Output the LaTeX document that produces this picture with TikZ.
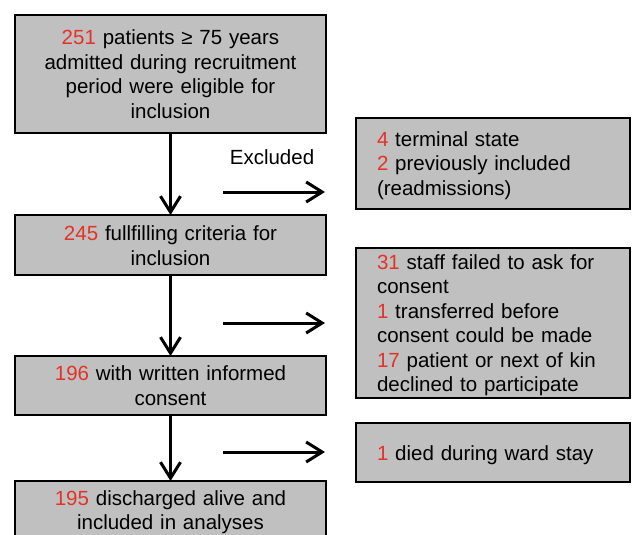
\documentclass[tikz,border=0pt]{standalone}
\usepackage{fontspec}
\setmainfont{Liberation Sans}
\usetikzlibrary{arrows.meta}
\definecolor{boxgray}{RGB}{192,192,192}
\definecolor{numred}{RGB}{228,50,40}
\newcommand\redn[1]{\textcolor{numred}{#1}}
\begin{document}
\begin{tikzpicture}[x=1pt,y=-1pt,
  txt/.style={font=\fontsize{20.5}{24.5}\selectfont},
  box/.style={txt, draw=black, line width=2.5pt, fill=boxgray, inner ysep=0pt, outer sep=0pt},
  lbox/.style={box, inner xsep=5pt, text width=301pt, align=center},
  rbox/.style={box, inner xsep=21pt, text width=232pt, align=left},
  arr/.style={line width=3pt, -{Straight Barb[length=16pt,width=20pt]}}]
\useasboundingbox (0,0) rectangle (632,535);
\node[lbox, minimum height=118pt] (n1) at (170.5,74)
  {\redn{251} patients ≥ 75 years\\admitted during recruitment\\period were eligible for\\inclusion};
\node[lbox, minimum height=60pt] (n2) at (170.5,245)
  {\rule{0pt}{16.5pt}\redn{245} fullfilling criteria for\\inclusion};
\node[lbox, minimum height=59pt] (n3) at (170.5,385.5)
  {\redn{196} with written informed\\consent};
\node[lbox, minimum height=60pt] (n4) at (170.5,511)
  {\rule{0pt}{17pt}\redn{195} discharged alive and\\included in analyses};
\node[rbox, minimum height=91pt] (e1) at (493,163.5)
  {\rule{0pt}{19pt}\redn{4} terminal state\\\redn{2} previously included\\(readmissions)};
\node[rbox, minimum height=150pt] (e2) at (493,323)
  {\rule{0pt}{19.5pt}\redn{31} staff failed to ask for\\consent\\\redn{1} transferred before\\consent could be made\\\redn{17} patient or next of kin\\declined to participate};
\node[rbox, minimum height=59pt] (e3) at (493,452.5)
  {\rule{0pt}{20.5pt}\redn{1} died during ward stay};
\node[txt, inner sep=0pt] (exl) at (272,157) {Excluded};
\draw[arr] (n1) -- (n2);
\draw[arr] (n2) -- (n3);
\draw[arr] (n3) -- (n4);
\coordinate (a1s) at (223,192); \coordinate (a1e) at (325,192);
\coordinate (a2s) at (223,323); \coordinate (a2e) at (325,323);
\coordinate (a3s) at (223,452); \coordinate (a3e) at (325,452);
\draw[arr] (a1s) -- (a1e);
\draw[arr] (a2s) -- (a2e);
\draw[arr] (a3s) -- (a3e);
\end{tikzpicture}
\end{document}
